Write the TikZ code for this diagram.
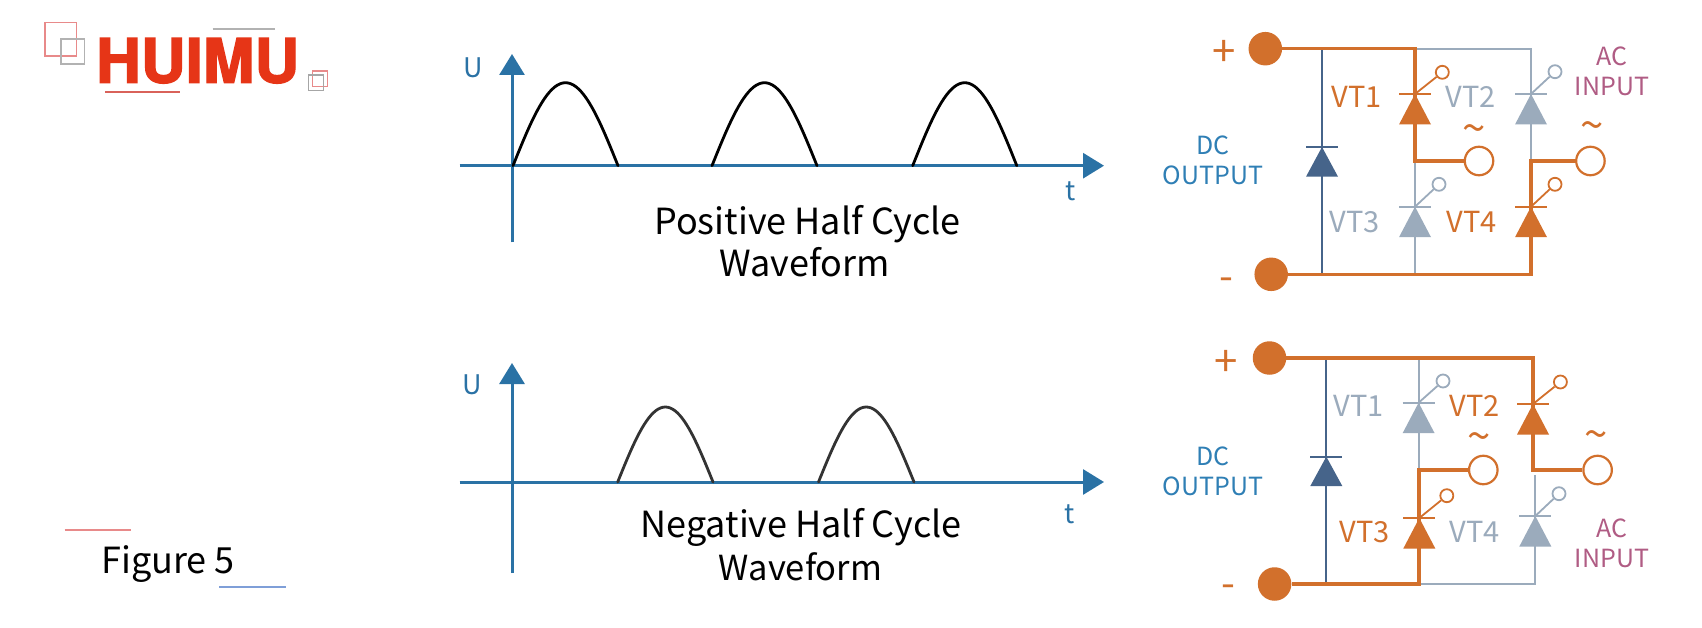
\documentclass[tikz,border=0pt]{standalone}
\usepackage{fontspec}
\setmainfont{Noto Sans CJK SC}
\newfontfamily\logofont[FakeBold=2.2]{TeX Gyre Heros Bold}
\usetikzlibrary{arrows.meta}
\definecolor{orng}{HTML}{D2702C}
\definecolor{gry}{HTML}{9BABBC}
\definecolor{dblue}{HTML}{46648A}
\definecolor{axisb}{HTML}{2A72A5}
\definecolor{txtb}{HTML}{2F7FB5}
\definecolor{acc}{HTML}{B05C84}
\definecolor{logor}{HTML}{E63517}
\definecolor{lred}{HTML}{E88A8A}
\definecolor{lblue}{HTML}{7F9FD8}
\definecolor{ulred}{HTML}{D9625A}
\tikzset{
  txt/.style={inner sep=0pt,anchor=base,align=center},
  axisline/.style={draw=axisb,line width=3pt,-{Triangle[length=21pt,width=25pt]}},
  wave/.style={line width=2.8pt,line cap=round},
  hot/.style={draw=orng,line width=3.2pt},
  cold/.style={draw=gry,line width=2.2pt},
  dio/.style={draw=dblue,line width=2.2pt},
  term/.style={circle,fill=orng,minimum size=33.5pt,inner sep=0pt},
  acterm/.style={circle,draw=orng,fill=white,line width=2.2pt,minimum size=28.5pt,inner sep=0pt},
}
% #1 name, #2 x, #3 apex y, #4 colour, #5 gate x, #6 gate y
\newcommand{\thyr}[6]{%
  \fill[#4] (#2,#3) -- (#2+16,#3+30.5) -- (#2-16,#3+30.5) -- cycle;
  \draw[#4,line width=2.2pt] (#2-16,#3) -- (#2+16,#3);
  \node[circle,draw=#4,fill=white,line width=1.8pt,minimum size=13pt,inner sep=0pt] (#1) at (#5,#6) {};
  \coordinate (#1a) at (#2,#3);
  \draw[#4,line width=1.8pt] (#1a) -- (#1);
}
\newcommand{\halfwave}[5]{% x0, x1, base y, height, colour
  \draw[wave,#5] plot[domain=0:180,samples=41] ({#1+(#2-#1)*(\x/180)},{#3-#4*sin(\x)});
}
\begin{document}
\begin{tikzpicture}[x=1pt,y=-1pt]
\useasboundingbox (0,0) rectangle (1702,628);
\fill[white] (0,0) rectangle (1702,628);

% ---- logo
\draw[lred,line width=1.3pt] (45,22.7) rectangle (76.7,56);
\draw[black!30,line width=1.3pt] (61,39) rectangle (84.7,64);
\draw[black!30,line width=1.2pt] (212.7,29) -- (275.3,29);
\node[txt,anchor=south west,text=logor] (logo) at (96,83.6)
  {\resizebox{203pt}{44.5pt}{\logofont HUIMU}};
\draw[ulred,line width=1.3pt] (105,92) -- (180,92);
\draw[lred,line width=1.2pt] (312.3,71) rectangle (327.3,86.7);
\draw[black!35,line width=1.2pt] (308.7,75) rectangle (323.3,90.3);
% ---- figure label
\draw[lred,line width=1.8pt] (64.7,529.7) -- (131,529.7);
\draw[lblue,line width=1.2pt] (219,587) -- (285.7,587);
\node[txt,font=\fontsize{36}{36}\selectfont] (fig) at (168,573) {Figure 5};

% ---- upper waveform
\coordinate (xa1) at (459.5,165.7);
\coordinate (xb1) at (1104,165.7);
\coordinate (ya1) at (512,242.3);
\coordinate (yb1) at (512,54);
\draw[axisline] (xa1) -- (xb1);
\draw[axisline] (ya1) -- (yb1);
\halfwave{513}{618}{165.7}{83}{black}
\halfwave{712}{817}{165.7}{83}{black}
\halfwave{912.7}{1016.8}{165.7}{83}{black}
\node[txt,text=axisb,font=\fontsize{27}{27}\selectfont] (u1) at (473,78) {U};
\node[txt,text=axisb,font=\fontsize{27}{27}\selectfont] (t1) at (1071,201) {t};
\node[txt,font=\fontsize{36}{36}\selectfont] (p1) at (807.5,234.5) {Positive Half Cycle};
\node[txt,font=\fontsize{36}{36}\selectfont] (p2) at (804.5,276.5) {Waveform};

% ---- lower waveform
\coordinate (xa2) at (459.5,482);
\coordinate (xb2) at (1104,482);
\coordinate (ya2) at (512,573);
\coordinate (yb2) at (512,363);
\draw[axisline] (xa2) -- (xb2);
\draw[axisline] (ya2) -- (yb2);
\halfwave{617.7}{713}{482}{75}{black!80}
\halfwave{818.5}{914}{482}{75}{black!80}
\node[txt,text=axisb,font=\fontsize{27}{27}\selectfont] (u2) at (472,394) {U};
\node[txt,text=axisb,font=\fontsize{27}{27}\selectfont] (t2) at (1070,523) {t};
\node[txt,font=\fontsize{36}{36}\selectfont] (n1) at (801,537.5) {Negative Half Cycle};
\node[txt,font=\fontsize{34.5}{34.5}\selectfont] (n2) at (800.5,580.5) {Waveform};

% ---- upper circuit
\node[term] (P1) at (1265.3,48.7) {};
\node[term] (M1) at (1271.2,274.3) {};
\node[acterm] (L1) at (1479,161) {};
\node[acterm] (R1) at (1590.4,161) {};
\coordinate (d1t) at (1322,48.7);
\coordinate (d1b) at (1322,274.3);
\coordinate (a1t) at (1415,48.7);
\coordinate (a1m) at (1415,161);
\coordinate (a1b) at (1415,274.3);
\coordinate (b1t) at (1531,48.7);
\coordinate (b1m) at (1531,161);
\coordinate (b1b) at (1531,274.3);
\draw[dio] (d1t) -- (d1b);
\draw[cold] (a1t) -- (b1t) -- (b1m);
\draw[cold] (a1m) -- (a1b);
\draw[hot] (P1) -- (a1t) -- (a1m) -- (L1);
\draw[hot] (M1) -- (b1b) -- (b1m) -- (R1);
\fill[dblue] (1322,147) -- (1338,176.7) -- (1306,176.7) -- cycle;
\draw[dblue,line width=2.2pt] (1306,147) -- (1338,147);
\thyr{g1a}{1415}{94}{orng}{1442.3}{72.3}
\thyr{g1b}{1531}{94}{gry}{1555}{71.7}
\thyr{g1c}{1415}{206.7}{gry}{1439}{184.3}
\thyr{g1d}{1531}{206.7}{orng}{1555}{184.3}
\node[txt,text=orng,font=\fontsize{29}{29}\selectfont] (tv1) at (1357,107.5) {VT1};
\node[txt,text=gry,font=\fontsize{29}{29}\selectfont] (tv2) at (1471,107.5) {VT2};
\node[txt,text=gry,font=\fontsize{29}{29}\selectfont] (tv3) at (1355,233) {VT3};
\node[txt,text=orng,font=\fontsize{29}{29}\selectfont] (tv4) at (1472,233) {VT4};
\node[txt,text=acc,font=\fontsize{25}{25}\selectfont] (ac1) at (1612,65.3) {AC};
\node[txt,text=acc,font=\fontsize{25}{25}\selectfont] (in1) at (1612,95.3) {INPUT};
\node[txt,text=txtb,font=\fontsize{25}{25}\selectfont] (dc1) at (1213,155) {DC};
\node[txt,text=txtb,font=\fontsize{25}{25}\selectfont] (ou1) at (1213,185) {OUTPUT};
\node[txt,text=orng,font=\fontsize{42}{42}\selectfont] (pl1) at (1224.5,66.8) {+};
\node[txt,text=orng,font=\fontsize{40}{40}\selectfont] (mi1) at (1226,290.7) {-};
\node[txt,text=orng,font=\fontsize{42}{42}\selectfont] (ti1) at (1474,144) {\char"7E};
\node[txt,text=orng,font=\fontsize{42}{42}\selectfont] (ti2) at (1592,141) {\char"7E};

% ---- lower circuit
\node[term] (P2) at (1269.5,358) {};
\node[term] (M2) at (1274.6,584) {};
\node[acterm] (L2) at (1483.3,470) {};
\node[acterm] (R2) at (1597.6,470) {};
\coordinate (d2t) at (1326.3,358);
\coordinate (d2b) at (1326.3,584);
\coordinate (a2t) at (1419,358);
\coordinate (a2m) at (1419,470);
\coordinate (a2b) at (1419,584);
\coordinate (b2t) at (1533,358);
\coordinate (b2m) at (1533,470);
\coordinate (c2t) at (1535.3,475);
\coordinate (c2b) at (1535.3,584);
\draw[dio] (d2t) -- (d2b);
\draw[cold] (a2t) -- (a2m);
\draw[cold] (a2b) -- (c2b) -- (c2t);
\draw[hot] (P2) -- (b2t) -- (b2m) -- (R2);
\draw[hot] (M2) -- (a2b) -- (a2m) -- (L2);
\fill[dblue] (1326.3,456.7) -- (1342.3,486) -- (1310.3,486) -- cycle;
\draw[dblue,line width=2.2pt] (1310.3,456.7) -- (1342.3,456.7);
\thyr{g2a}{1418.6}{402.7}{gry}{1443}{381}
\thyr{g2b}{1533}{404}{orng}{1560.4}{382}
\thyr{g2c}{1419.3}{518}{orng}{1446.8}{495.7}
\thyr{g2d}{1535.3}{516}{gry}{1559}{493.7}
\node[txt,text=gry,font=\fontsize{29}{29}\selectfont] (uv1) at (1359,416.5) {VT1};
\node[txt,text=orng,font=\fontsize{29}{29}\selectfont] (uv2) at (1474.5,416.5) {VT2};
\node[txt,text=orng,font=\fontsize{29}{29}\selectfont] (uv3) at (1364.5,542) {VT3};
\node[txt,text=gry,font=\fontsize{29}{29}\selectfont] (uv4) at (1474.5,542) {VT4};
\node[txt,text=acc,font=\fontsize{25}{25}\selectfont] (ac2) at (1612,537.7) {AC};
\node[txt,text=acc,font=\fontsize{25}{25}\selectfont] (in2) at (1612,567.7) {INPUT};
\node[txt,text=txtb,font=\fontsize{25}{25}\selectfont] (dc2) at (1213,465.7) {DC};
\node[txt,text=txtb,font=\fontsize{25}{25}\selectfont] (ou2) at (1213,495) {OUTPUT};
\node[txt,text=orng,font=\fontsize{42}{42}\selectfont] (pl2) at (1226.4,376.8) {+};
\node[txt,text=orng,font=\fontsize{40}{40}\selectfont] (mi2) at (1228,597.3) {-};
\node[txt,text=orng,font=\fontsize{42}{42}\selectfont] (ti3) at (1479,451.7) {\char"7E};
\node[txt,text=orng,font=\fontsize{42}{42}\selectfont] (ti4) at (1596,449) {\char"7E};
\end{tikzpicture}
\end{document}
